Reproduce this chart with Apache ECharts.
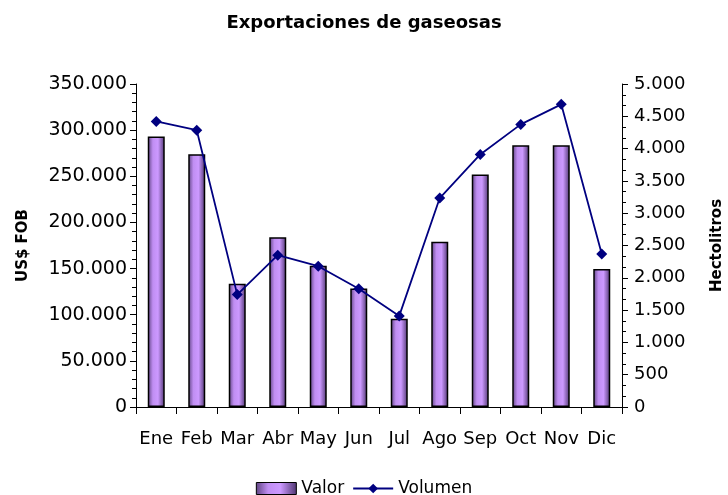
<!DOCTYPE html>
<html>
<head>
<meta charset="utf-8">
<script src="https://cdn.jsdelivr.net/npm/echarts@6/dist/echarts.min.js"></script>
<style>
  html, body { margin: 0; padding: 0; background: #fff; }
  #chart { width: 728px; height: 495px; }
</style>
</head>
<body>
<div id="chart"></div>
<script>
// datos del grafico
var meses = ['Ene', 'Feb', 'Mar', 'Abr', 'May', 'Jun', 'Jul', 'Ago', 'Sep', 'Oct', 'Nov', 'Dic'];
var valor = [293000, 274000, 133500, 184000, 153000, 128500, 95500, 179000, 252000, 283500, 283500, 149500];
var volumen = [4420, 4285, 1740, 2350, 2180, 1830, 1410, 3235, 3910, 4375, 4685, 2370];

// separador de miles con punto
function miles(v) {
    return String(v).replace(/\B(?=(\d{3})+(?!\d))/g, '.');
}

var myChart = echarts.init(document.getElementById('chart'));
var fuente = 'DejaVu Sans';

var option = {
    animation: false,
    title: {
        text: 'Exportaciones de gaseosas',
        left: 'center',
        top: 9,
        textStyle: { fontFamily: fuente, fontSize: 18, fontWeight: 'bold', color: '#000' }
    },
    legend: {
        top: 480,
        left: 'center',
        padding: 0,
        itemGap: 8,
        textStyle: { fontFamily: fuente, fontSize: 17, color: '#000' },
        data: [
            { name: 'Valor', icon: 'rect', itemStyle: { borderColor: '#000', borderWidth: 1 } },
            { name: 'Volumen' }
        ],
        itemWidth: 40,
        itemHeight: 12
    },
    grid: { left: 136, right: 106, top: 84, bottom: 88, outerBoundsMode: 'none' },
    xAxis: {
        type: 'category',
        data: meses,
        axisLine: { lineStyle: { color: '#000', width: 1 } },
        axisTick: { show: true, length: 7, lineStyle: { color: '#000' } },
        axisLabel: { fontFamily: fuente, fontSize: 18, color: '#000', margin: 23, interval: 0 }
    },
    yAxis: [{
        type: 'value',
        min: 0,
        max: 350000,
        interval: 50000,
        name: 'US$ FOB',
        nameLocation: 'middle',
        nameGap: 105,
        nameRotate: 90,
        nameTextStyle: { fontFamily: fuente, fontSize: 15, fontWeight: 'bold', color: '#000' },
        axisLine: { show: true, lineStyle: { color: '#000' } },
        axisTick: { show: true, length: 6, lineStyle: { color: '#000' } },
        minorTick: { show: true, splitNumber: 5, length: 4, lineStyle: { color: '#000' } },
        splitLine: { show: false },
        axisLabel: {
            fontFamily: fuente, fontSize: 19, color: '#000', margin: 9,
            formatter: function (v) { return miles(v); }
        }
    }, {
        type: 'value',
        min: 0,
        max: 5000,
        interval: 500,
        name: 'Hectolitros',
        nameLocation: 'middle',
        nameGap: 88,
        nameRotate: 90,
        nameTextStyle: { fontFamily: fuente, fontSize: 15, fontWeight: 'bold', color: '#000' },
        axisLine: { show: true, lineStyle: { color: '#000' } },
        axisTick: { show: true, length: 6, lineStyle: { color: '#000' } },
        minorTick: { show: true, splitNumber: 3, length: 4, lineStyle: { color: '#000' } },
        splitLine: { show: false },
        axisLabel: {
            fontFamily: fuente, fontSize: 18, color: '#000', margin: 12,
            formatter: function (v) { return miles(v); }
        }
    }],
    series: [{
        name: 'Valor',
        type: 'bar',
        yAxisIndex: 0,
        barWidth: 17,
        data: valor,
        itemStyle: {
            borderColor: '#000',
            borderWidth: 1.5,
            color: new echarts.graphic.LinearGradient(0, 0, 1, 0, [
                { offset: 0, color: '#5d4280' },
                { offset: 0.3, color: '#c08ef2' },
                { offset: 0.6, color: '#cc99ff' },
                { offset: 1, color: '#4e3570' }
            ])
        }
    }, {
        name: 'Volumen',
        type: 'line',
        yAxisIndex: 1,
        data: volumen,
        symbol: 'diamond',
        symbolSize: 11,
        lineStyle: { color: '#000080', width: 1.8 },
        itemStyle: { color: '#000080' }
    }]
};

myChart.setOption(option);
</script>
</body>
</html>
